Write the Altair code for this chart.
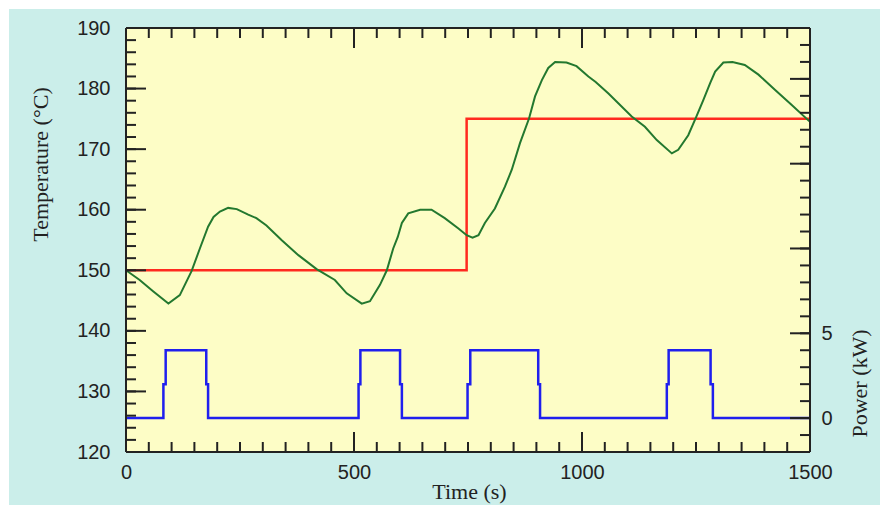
import altair as alt
import pandas as pd

# ---------------- data ----------------
time_s = [0, 30, 60, 93, 118, 144, 162, 180, 192, 206, 224, 243, 268, 286, 308,
          341, 378, 418, 458, 484, 517, 535, 557, 572, 586, 596, 605, 619, 645,
          670, 699, 729, 747, 760, 773, 787, 809, 831, 846, 864, 884, 897, 912,
          926, 941, 966, 988, 1014, 1030, 1058, 1109, 1138, 1164, 1197, 1211,
          1233, 1251, 1266, 1281, 1292, 1310, 1330, 1357, 1387, 1423, 1460, 1500]
temp_c = [150.0, 148.4, 146.5, 144.5, 145.9, 149.9, 153.6, 157.2, 158.8, 159.7,
          160.3, 160.1, 159.2, 158.6, 157.4, 155.0, 152.5, 150.2, 148.4, 146.2,
          144.5, 144.9, 147.6, 150.0, 153.6, 155.5, 157.8, 159.4, 160.0, 160.0,
          158.6, 156.9, 155.8, 155.4, 155.8, 157.8, 160.2, 163.8, 166.6, 171.0,
          175.1, 178.7, 181.4, 183.4, 184.4, 184.3, 183.7, 182.0, 181.1, 179.2,
          175.4, 173.7, 171.5, 169.3, 169.9, 172.3, 175.4, 178.1, 180.9, 182.8,
          184.3, 184.4, 183.9, 182.3, 179.8, 177.3, 174.5]

sp_time = [0, 747, 1500]
sp_temp = [150, 175, 175]

pw_time = [0, 82, 87, 176, 180, 510, 514, 601, 605, 749, 755, 904, 908,
           1186, 1190, 1282, 1287, 1500]
pw_kw = [0, 2, 4, 2, 0, 2, 4, 2, 0, 2, 4, 2, 0, 2, 4, 2, 0, 0]

x_major = [0, 500, 1000, 1500]
x_minor = list(range(0, 1501, 50))
t_major = [120, 130, 140, 150, 160, 170, 180, 190]
t_minor = list(range(120, 191, 2))
p_major = [0, 5, 10, 15, 20]
p_minor = list(range(-2, 24))
p_labels = [0, 5]

# ---------------- style ----------------
W, H = 684, 424
CYAN = "#cbeeea"
YELLOW = "#fdfdc6"
INK = "#222222"
GREEN = "#23782f"
RED = "#ff2a1f"
BLUE = "#1f1fee"
LFONT = "Liberation Sans"
TFONT = "Liberation Serif"

x_scale = alt.Scale(domain=[0, 1500], nice=False, zero=False)
t_scale = alt.Scale(domain=[120, 190], nice=False, zero=False)
p_scale = alt.Scale(domain=[-2, 23], nice=False, zero=False)

common = dict(ticks=False, tickSize=0, domain=False, grid=False, format="d",
              labelFont=LFONT, labelFontSize=20, labelColor=INK,
              labelFlush=False, labelOverlap=False,
              titleFont=TFONT, titleFontSize=22, titleFontWeight="normal",
              titleColor=INK, titleAlign="center", titleBaseline="middle")

x_axis = alt.Axis(values=x_major, title="Time (s)", orient="bottom",
                  labelPadding=10, titleX=343, titleY=39, titleAngle=0, **common)
t_axis = alt.Axis(values=t_major, title="Temperature (°C)", orient="left",
                  labelPadding=16, titleX=-86, titleY=136, titleAngle=270, **common)
p_axis = alt.Axis(values=p_labels, title="Power (kW)", orient="right",
                  labelPadding=11, titleX=49, titleY=355, titleAngle=270, **common)

one = alt.Data(values=[{"k": 0}])


def rect(x, x2, y, y2, color):
    return alt.Chart(one).mark_rect(color=color).encode(
        x=alt.value(x), x2=alt.value(x2), y=alt.value(y), y2=alt.value(y2))


def frame(**enc):
    return alt.Chart(one).mark_rule(color=INK, strokeWidth=2).encode(
        **{k: alt.value(v) for k, v in enc.items()})


df_T = pd.DataFrame({"t": time_s, "T": temp_c})
df_sp = pd.DataFrame({"t": sp_time, "T": sp_temp})
df_p = pd.DataFrame({"t": pw_time, "P": pw_kw})

white_top = rect(-126, 754, -28, -19, "white")
white_left = rect(-126, -117, -28, 477, "white")

setpoint = alt.Chart(df_sp).mark_line(
    interpolate="step-after", color=RED, strokeWidth=2.5).encode(
    x=alt.X("t:Q", scale=x_scale, axis=x_axis),
    y=alt.Y("T:Q", scale=t_scale, axis=None))

temperature = alt.Chart(df_T).mark_line(color=GREEN, strokeWidth=2).encode(
    x=alt.X("t:Q", scale=x_scale, axis=x_axis),
    y=alt.Y("T:Q", scale=t_scale, axis=t_axis))

power = alt.Chart(df_p).mark_line(
    interpolate="step-after", color=BLUE, strokeWidth=2.5).encode(
    x=alt.X("t:Q", scale=x_scale, axis=x_axis),
    y=alt.Y("P:Q", scale=p_scale, axis=p_axis))


def yticks(values, scale, x, x2):
    return alt.Chart(pd.DataFrame({"v": values})).mark_rule(
        color=INK, strokeWidth=2).encode(
        y=alt.Y("v:Q", scale=scale, axis=None),
        x=alt.value(x), x2=alt.value(x2))


def xticks(values, y, y2):
    return alt.Chart(pd.DataFrame({"v": values})).mark_rule(
        color=INK, strokeWidth=2).encode(
        x=alt.X("v:Q", scale=x_scale, axis=x_axis),
        y=alt.value(y), y2=alt.value(y2))


layers = [
    white_top, white_left,
    setpoint, temperature, power,
    yticks(t_minor, t_scale, 0, 10), yticks(t_major, t_scale, 0, 20),
    yticks(p_minor, p_scale, W, W - 10), yticks(p_major, p_scale, W, W - 20),
    xticks(x_minor, 0, 10), xticks(x_major, 0, 20),
    xticks(x_minor, H, H - 10), xticks(x_major, H, H - 20),
    frame(x=0, x2=W, y=0), frame(x=0, x2=W, y=H),
    frame(x=0, y=0, y2=H), frame(x=W, y=0, y2=H),
]

chart = alt.layer(*layers).resolve_scale(y="independent").properties(
    width=W, height=H,
    padding={"left": 126, "top": 28, "right": 70, "bottom": 53},
    autosize=alt.AutoSizeParams(type="none"),
).configure(background=CYAN).configure_view(stroke=None, fill=YELLOW)

chart.save("out.html", embed_options={"renderer": "svg", "actions": False})
